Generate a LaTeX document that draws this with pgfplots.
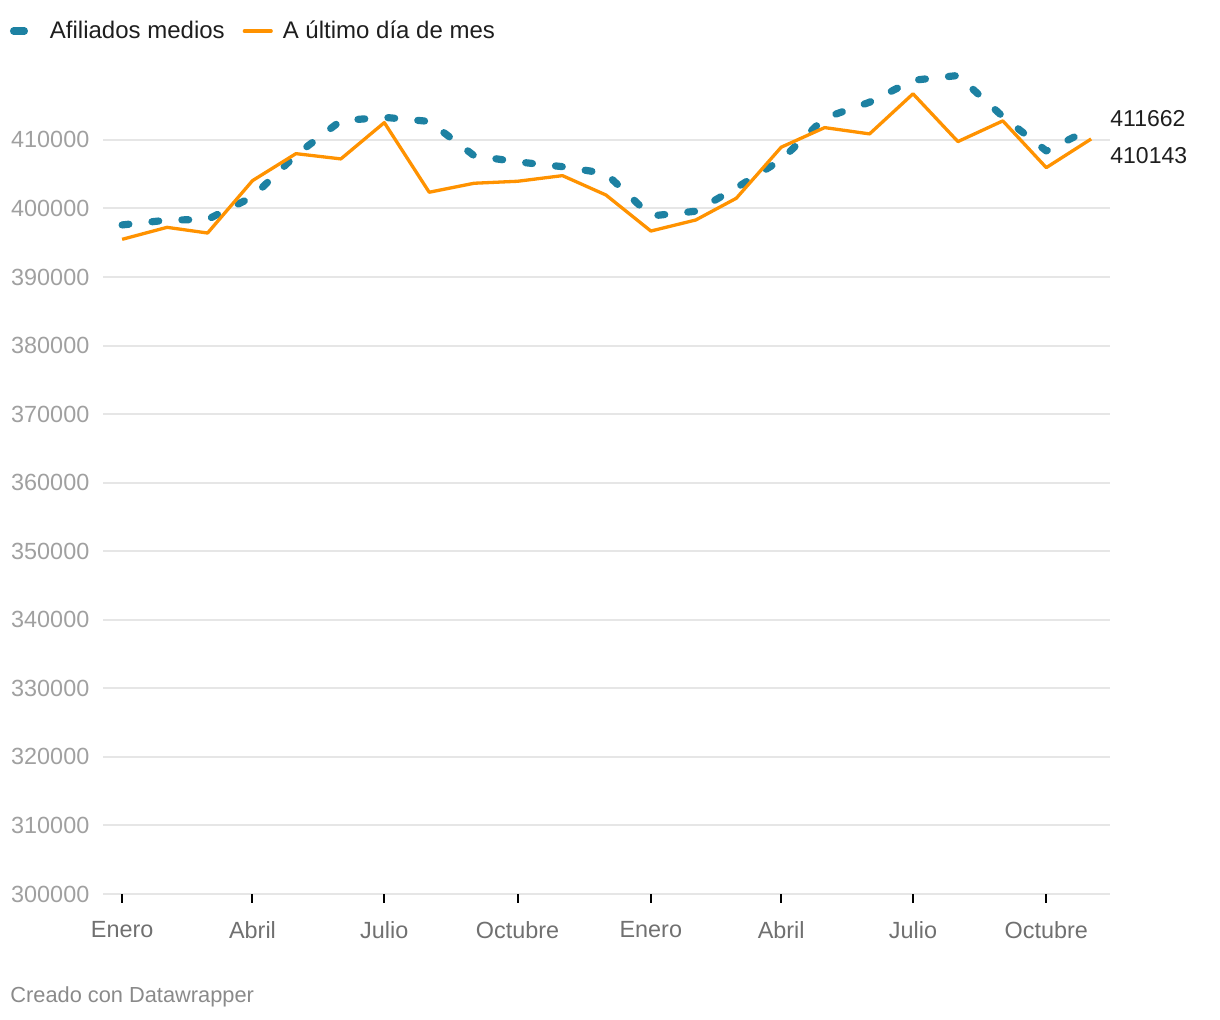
\documentclass[border=0pt]{standalone}
\usepackage{pgfplots}
\pgfplotsset{compat=1.18}
\usepackage{fontspec}
\setmainfont{Liberation Sans}
\definecolor{cblue}{HTML}{1D81A2}
\definecolor{corange}{HTML}{FF9200}
\definecolor{gridc}{HTML}{E6E6E6}
\definecolor{ylab}{HTML}{A0A0A0}
\definecolor{xlab}{HTML}{707070}
\definecolor{dark}{HTML}{1E1E1E}
\definecolor{credit}{HTML}{8A8A8A}
\begin{document}
\begin{tikzpicture}
\useasboundingbox (-51.65pt,-63pt) rectangle (558.35pt,447pt);
\begin{axis}[
  at={(0pt,0pt)}, anchor=south west,
  scale only axis, width=503.35pt, height=411.3pt,
  xmin=-13, xmax=682, ymin=300000, ymax=420000,
  clip=false,
  axis line style={draw=none},
  ytick={300000,310000,...,410000},
  scaled y ticks=false,
  /pgf/number format/fixed,
  /pgf/number format/1000 sep={},
  /pgf/number format/assume math mode=true,
  yticklabel style={anchor=east, inner sep=0pt, xshift=-2.3pt, text=ylab, font=\fontsize{11.7}{13}\selectfont},
  ytick style={draw=none},
  ymajorgrids, grid style={color=gridc, line width=1pt},
  xtick={0,90,181,273,365,455,546,638},
  xticklabels={Enero,Abril,Julio,Octubre,Enero,Abril,Julio,Octubre},
  xtick pos=bottom,
  tick align=outside,
  major tick length=4.5pt,
  xtick style={draw=black, line width=1pt},
  xticklabel style={anchor=north, inner sep=0pt, yshift=-9pt, text=xlab, font=\fontsize{11.7}{13}\selectfont},
  legend style={at={(axis description cs:-0.0927,1.049)}, anchor=west, draw=none, fill=none,
    inner sep=0pt, outer sep=0pt, font=\fontsize{12}{14}\selectfont, text=dark,
    nodes={inner sep=0pt},
    /tikz/every odd column/.append style={column sep=5pt},
    /tikz/every even column/.append style={column sep=9pt}},
  legend columns=-1,
]
\addplot[color=cblue, line width=3.6pt, line cap=round, line join=round, dash pattern=on 3.4pt off 11.6pt,
  legend image code/.code={\path[draw=none, fill=none] (0pt,-2pt) rectangle (15pt,2pt); \draw[cblue, solid, line width=3.6pt, line cap=round] (1.8pt,0pt) -- (7.2pt,0pt);}]
coordinates {
(0,397600) (31,398300) (59,398400) (90,401700) (120,407800) (151,412800)
(181,413300) (212,412700) (243,407700) (273,406800) (304,406100) (334,405100)
(365,398900) (396,399600) (424,403000) (455,407100) (485,413200) (516,415500)
(546,418700) (577,419400) (608,413400) (638,408400) (669,411662)
};
\addlegendentry{Afiliados medios}
\addplot[color=corange, line width=1.65pt, line join=round,
  legend image code/.code={\path[draw=none, fill=none] (0pt,-2pt) rectangle (15pt,2pt); \draw[corange, solid, line width=1.65pt, line cap=round] (0.8pt,0pt) -- (14.2pt,0pt);}]
coordinates {
(0,395500) (31,397250) (59,396420) (90,404060) (120,408000) (151,407230)
(181,412530) (212,402370) (243,403680) (273,403970) (304,404790) (334,401970)
(365,396710) (396,398320) (424,401490) (455,408940) (485,411800) (516,410880)
(546,416730) (577,409760) (608,412780) (638,405960) (669,410143)
};
\addlegendentry{A último día de mes}
\node[anchor=west, inner sep=0pt, text=dark, font=\fontsize{11.5}{13}\selectfont] at (axis cs:682,413160) {411662};
\node[anchor=west, inner sep=0pt, text=dark, font=\fontsize{11.5}{13}\selectfont] at (axis cs:682,407700) {410143};
\end{axis}
\node[anchor=west, inner sep=0pt, text=credit, font=\fontsize{10.9}{12}\selectfont] at (-46.65pt,-51.5pt) {Creado con Datawrapper};
\end{tikzpicture}
\end{document}
